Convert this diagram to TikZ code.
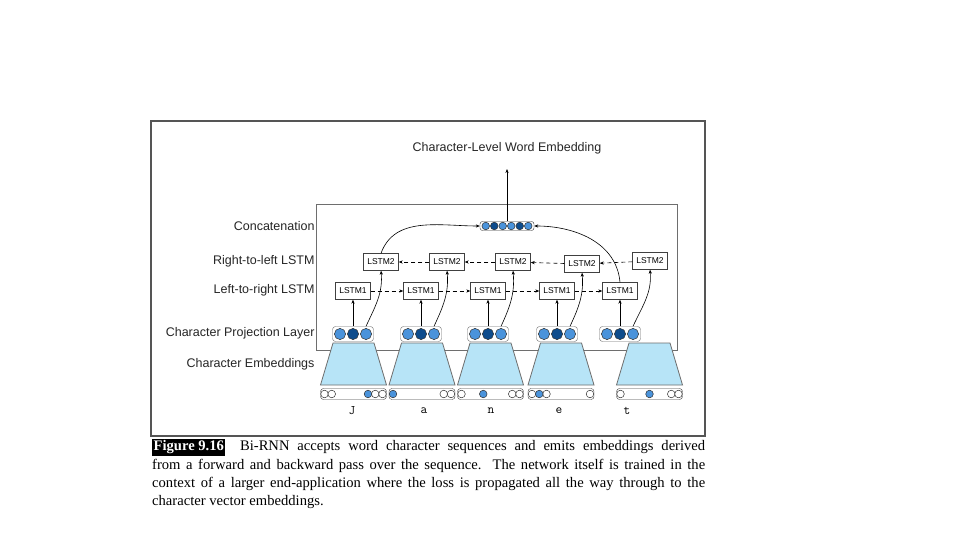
\documentclass[tikz,border=0pt]{standalone}
\usepackage{fontspec}
\setmainfont{Liberation Serif}
\setsansfont{Liberation Sans}
\usetikzlibrary{arrows.meta, positioning}

\definecolor{dotlight}{HTML}{4A93DB}
\definecolor{dotdark}{HTML}{0E4C8C}
\definecolor{embfill}{HTML}{B7E4F7}
\definecolor{linegray}{HTML}{6E6E6E}
\definecolor{framegray}{HTML}{555555}
\setlength{\fboxsep}{1.5pt}

\begin{document}
\begin{tikzpicture}[
        x=1pt, y=1pt,
        layerlabel/.style={anchor=east, text=black!85, font=\sffamily\fontsize{12.5}{14}\selectfont},
        lstm/.style={rectangle, draw=black!75, fill=white, minimum width=35pt, minimum height=17pt, inner sep=0pt, font=\sffamily\fontsize{8.5}{10}\selectfont},
        projvec/.style={rectangle, draw=linegray, fill=white, rounded corners=3pt, minimum width=41pt, minimum height=15pt, inner sep=0pt},
        catvec/.style={rectangle, draw=black!80, fill=white, rounded corners=2.5pt, minimum width=54pt, minimum height=9pt, inner sep=0pt},
        onehot/.style={rectangle, draw=black!75, fill=white, rounded corners=3pt, minimum width=66pt, minimum height=11pt, inner sep=0pt},
        embtrap/.style={fill=embfill, draw=linegray, line width=0.8pt},
        dot/.style={draw=black!80, line width=0.5pt},
        letter/.style={font=\ttfamily\fontsize{13}{15}\selectfont},
        arrow/.style={-{Stealth[length=4pt,width=3.2pt]}, line width=0.6pt},
        dasharrow/.style={arrow, dash pattern=on 4pt off 3pt}
    ]

    \useasboundingbox (0,0) rectangle (960,-540);
    \fill[white] (0,0) rectangle (960,-540);

    % Frames
    \draw[framegray, line width=1.2pt] (151,-121) rectangle (705,-436);
    \draw[linegray, line width=0.6pt] (316,-204) rectangle (677,-350);

    % Title and layer labels
    \node [font=\sffamily\fontsize{12.5}{14}\selectfont, text=black!85] (title) at (507,-148) {Character-Level Word Embedding};
    \node [layerlabel] (lblcat) at (318,-226) {Concatenation};
    \node [layerlabel] (lblrl) at (318,-261) {Right-to-left LSTM};
    \node [layerlabel] (lbllr) at (318,-290) {Left-to-right LSTM};
    \node [layerlabel] (lblproj) at (318,-333) {Character Projection Layer};
    \node [layerlabel] (lblemb) at (318,-364) {Character Embeddings};

    % Character embeddings
    \foreach \c in {353.5,422,490.5,561,649.5}
        \draw[embtrap] (\c-20.5,-343) -- (\c+20.5,-343) -- (\c+33,-385) -- (\c-33,-385) -- cycle;

    \node [onehot] (e1) at (353.5,-394) {};
    \node [onehot] (e2) at (422,-394) {};
    \node [onehot] (e3) at (490.5,-394) {};
    \node [onehot] (e4) at (561,-394) {};
    \node [onehot] (e5) at (649.5,-394) {};
    \foreach \c/\w/\b in {353.5/{1,2,8,9}/7, 422/{8,9}/1, 490.5/{1,8,9}/4, 561/{1,3,9}/2, 649.5/{1,8,9}/5} {
        \foreach \k in \w
            \filldraw[dot, fill=white] (\c-29+7.25*\k-7.25,-394) circle (3.8);
        \filldraw[dot, fill=dotlight] (\c-29+7.25*\b-7.25,-394) circle (3.8);
    }

    \node [letter] (chJ) at (352,-411) {J};
    \node [letter] (cha) at (424,-411) {a};
    \node [letter] (chn) at (491,-411) {n};
    \node [letter] (che) at (559,-411) {e};
    \node [letter] (cht) at (627,-411) {t};

    % Character projection layer
    \node [projvec] (p1) at (353,-334) {};
    \node [projvec] (p2) at (421,-334) {};
    \node [projvec] (p3) at (488,-334) {};
    \node [projvec] (p4) at (557,-334) {};
    \node [projvec] (p5) at (620,-334) {};
    \foreach \x in {353,421,488,557,620} {
        \filldraw[dot, fill=dotlight] (\x-13,-334) circle (5.6);
        \filldraw[dot, fill=dotdark] (\x,-334) circle (5.6);
        \filldraw[dot, fill=dotlight] (\x+13,-334) circle (5.6);
    }

    % LSTMs
    \node [lstm] (l1) at (353,-291) {LSTM1};
    \node [lstm] (l2) at (421,-291) {LSTM1};
    \node [lstm] (l3) at (488,-291) {LSTM1};
    \node [lstm] (l4) at (557,-291) {LSTM1};
    \node [lstm] (l5) at (620,-291) {LSTM1};

    \node [lstm] (r1) at (381,-262) {LSTM2};
    \node [lstm] (r2) at (447,-262) {LSTM2};
    \node [lstm] (r3) at (513,-262) {LSTM2};
    \node [lstm] (r4) at (582,-264) {LSTM2};
    \node [lstm] (r5) at (650,-261) {LSTM2};

    % Concatenation
    \node [catvec] (cat) at (507,-226) {};
    \foreach \dx/\col in {-21.25/dotlight, -12.75/dotdark, -4.25/dotlight, 4.25/dotlight, 12.75/dotdark, 21.25/dotlight}
        \filldraw[dot, fill=\col] (507+\dx,-226) circle (3.8);
    \coordinate (wordout) at (507,-169);

    % Connecting Lines
    \draw [arrow] (p1.north) -- (l1.south);
    \draw [arrow] (p2.north) -- (l2.south);
    \draw [arrow] (p3.north) -- (l3.south);
    \draw [arrow] (p4.north) -- (l4.south);
    \draw [arrow] (p5.north) -- (l5.south);

    \draw [arrow] ([xshift=13pt]p1.north) to[out=65, in=-85] (r1.south);
    \draw [arrow] ([xshift=13pt]p2.north) to[out=65, in=-85] (r2.south);
    \draw [arrow] ([xshift=13pt]p3.north) to[out=65, in=-85] (r3.south);
    \draw [arrow] ([xshift=13pt]p4.north) to[out=65, in=-85] (r4.south);
    \draw [arrow] ([xshift=13pt]p5.north) to[out=65, in=-85] (r5.south);

    \draw [dasharrow] (l1) -- (l2);
    \draw [dasharrow] (l2) -- (l3);
    \draw [dasharrow] (l3) -- (l4);
    \draw [dasharrow] (l4) -- (l5);

    \draw [dasharrow] (r5) -- (r4);
    \draw [dasharrow] (r4) -- (r3);
    \draw [dasharrow] (r3) -- (r2);
    \draw [dasharrow] (r2) -- (r1);

    \draw [arrow] (r1.north) to[out=70, in=180] (cat.west);
    \draw [arrow] (l5.north) to[out=95, in=0] (cat.east);
    \draw [arrow] (cat.north) -- (wordout);

    % Caption
    \node [anchor=north west, inner sep=0pt, text width=553pt, align=justify, font=\fontsize{14.6}{18.3}\selectfont] (caption) at (152,-439)
        {\colorbox{black}{\textcolor{white}{\textbf{Figure 9.16}}}\quad Bi-RNN accepts word character sequences and emits embeddings derived\linebreak
        from a forward and backward pass over the sequence.\ \ The network itself is trained in the\linebreak
        context of a larger end-application where the loss is propagated all the way through to the\linebreak
        character vector embeddings.};

\end{tikzpicture}
\end{document}
